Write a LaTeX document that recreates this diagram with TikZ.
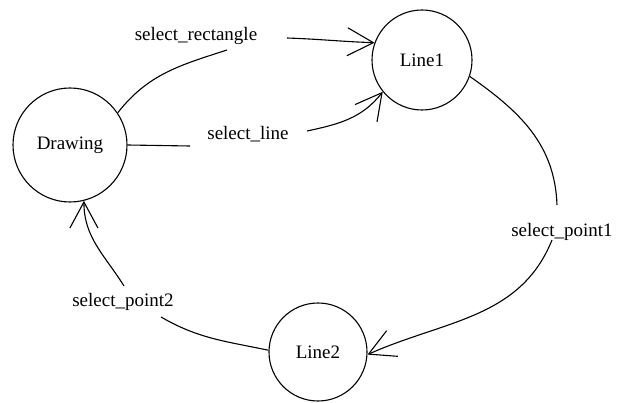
\documentclass[tikz,border=0pt]{standalone}
\usepackage{fontspec}
\setmainfont{Liberation Serif}
\usepackage{tikz}
\usetikzlibrary{arrows.meta,positioning}

\begin{document}
\begin{tikzpicture}
              [x=1pt,y=1pt,line width=1.1pt,
                every node/.style={font=\fontsize{19}{22}\selectfont},
                state/.style={circle,draw,inner sep=0pt},
                word/.style={draw=none,fill=none,inner sep=1pt},
                barb/.style={-{Straight Barb[length=26pt,width=28pt]}}]
              \useasboundingbox (0,0) rectangle (621,402);
              \node[state,minimum size=114pt] (drawing) at (70,257) {Drawing};
              \node[state,minimum size=100pt] (line1) at (422,342) {Line1};
              \node[state,minimum size=98pt] (line2) at (318,50) {Line2};
              \node[word] (w0) at (196,366) {select\_rectangle};
              \node[word] (w1) at (248,268) {select\_line};
              \node[word] (w2) at (562,170) {select\_point1};
              \node[word] (w3) at (123,100) {select\_point2};
              \coordinate (r1) at (227,352);
              \coordinate (r2) at (287,364);
              \coordinate (s1) at (190,256);
              \coordinate (s2) at (307,271);
              \coordinate (p1) at (557,197);
              \coordinate (p2) at (552,162);
              \coordinate (q1) at (161,85);
              \coordinate (q2) at (124,116);
              \draw (drawing.34) to[out=52,in=198] (r1);
              \draw[barb] (r2) to[out=-2,in=178] (line1.160);
              \draw (drawing.east) -- (s1);
              \draw[barb] (s2) to[out=12,in=232] (line1.219);
              \draw (line1.-19) to[out=-35,in=92] (p1);
              \draw[barb] (p2) to[out=-112,in=24] (line2.-3);
              \draw (line2.178) to[out=168,in=-30] (q1);
              \draw[barb] (q2) to[out=122,in=-90] (drawing.-76);
            \end{tikzpicture}
\end{document}
